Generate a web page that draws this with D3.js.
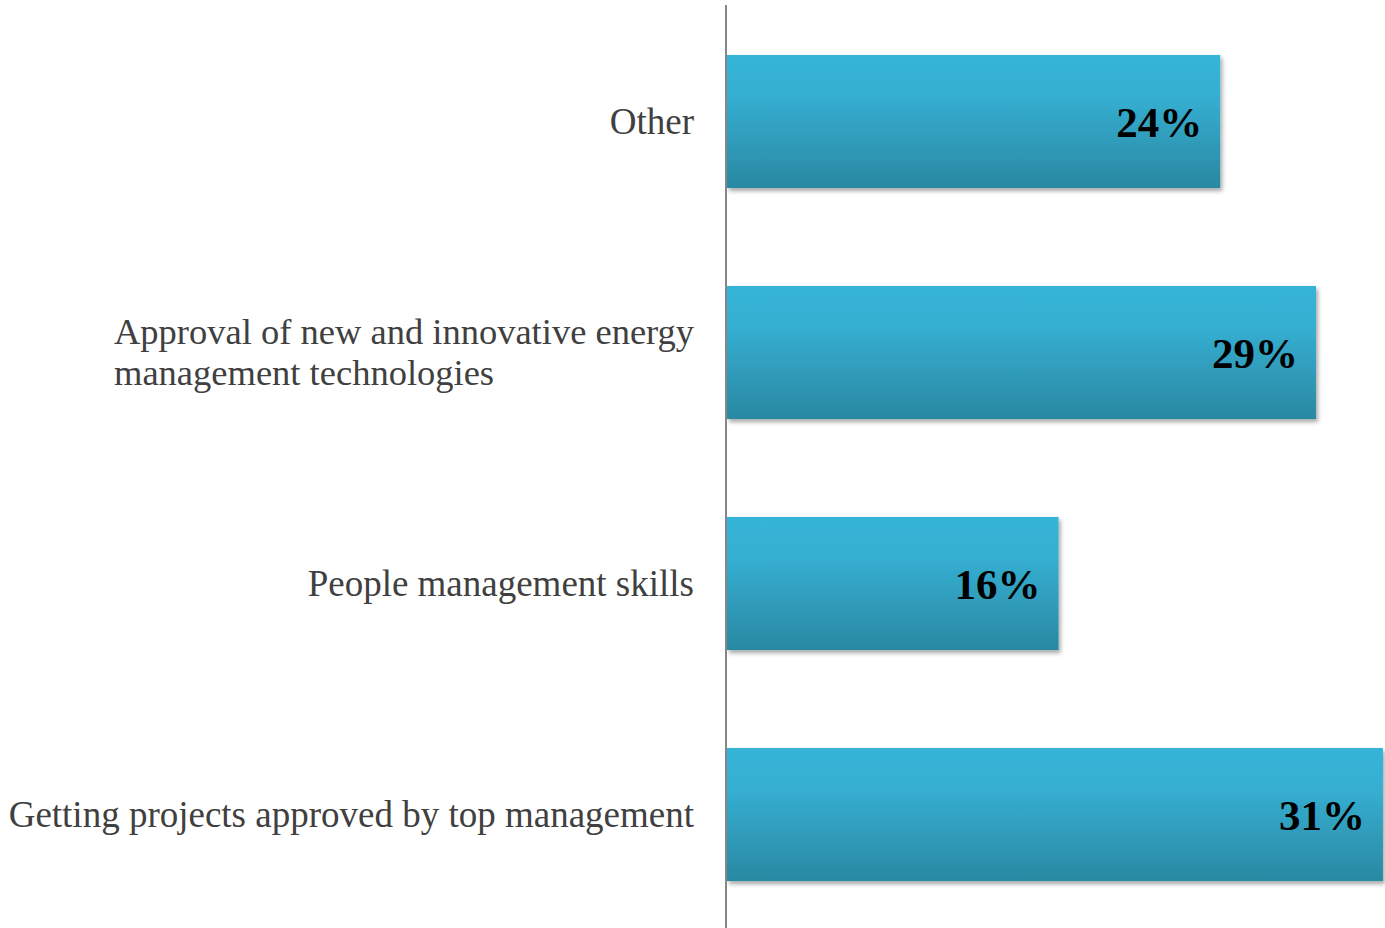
<!DOCTYPE html>
<html>
<head>
<meta charset="utf-8">
<script src="https://cdn.jsdelivr.net/npm/d3@7"></script>
<style>
  body { margin: 0; background: #fff; }
  svg { display: block; }
</style>
</head>
<body>
<div id="chart"></div>
<script>
// dimensions
var width = 1385;
var height = 928;
var axisX = 727;

// data, top to bottom
var categories = [
    ["Other"],
    ["Approval of new and innovative energy", "management technologies"],
    ["People management skills"],
    ["Getting projects approved by top management"]
];
var values = [23.95, 28.6, 16.1, 31.85];
var valueLabels = ["24%", "29%", "16%", "31%"];

var svg = d3.select("#chart")
    .append("svg")
        .attr("width", width)
        .attr("height", height);

var defs = svg.append("defs");
var grad = defs.append("linearGradient")
    .attr("id", "barGrad")
    .attr("x1", 0).attr("y1", 0).attr("x2", 0).attr("y2", 1);
grad.append("stop").attr("offset", "0%").attr("stop-color", "#36b4d7");
grad.append("stop").attr("offset", "30%").attr("stop-color", "#35afd2");
grad.append("stop").attr("offset", "100%").attr("stop-color", "#2a88a2");

var shadow = defs.append("filter")
    .attr("id", "shadow")
    .attr("x", "-5%").attr("y", "-10%").attr("width", "115%").attr("height", "130%");
shadow.append("feDropShadow")
    .attr("dx", 2).attr("dy", 3).attr("stdDeviation", 2)
    .attr("flood-color", "#000").attr("flood-opacity", 0.35);

var x = d3.scaleLinear()
    .domain([0, 32])
    .range([axisX, 1386]);

var y = d3.scaleBand()
    .domain(d3.range(categories.length))
    .range([6, 930])
    .paddingInner(0.424)
    .paddingOuter(0.212);

// bars
svg.selectAll("rect.bar")
    .data(values)
    .enter()
    .append("rect")
        .attr("class", "bar")
        .attr("x", x(0))
        .attr("y", function(d, i) { return y(i); })
        .attr("width", function(d) { return x(d) - x(0); })
        .attr("height", y.bandwidth())
        .attr("fill", "url(#barGrad)")
        .attr("filter", "url(#shadow)");

// value labels
svg.selectAll("text.val")
    .data(values)
    .enter()
    .append("text")
        .attr("class", "val")
        .attr("x", function(d) { return x(d) - 18; })
        .attr("y", function(d, i) { return y(i) + y.bandwidth() / 2 + 15; })
        .attr("text-anchor", "end")
        .style("font-family", "'Liberation Serif', serif")
        .style("font-weight", "bold")
        .style("font-size", "43px")
        .style("fill", "#000")
        .text(function(d, i) { return valueLabels[i]; });

// category labels
var lab = svg.selectAll("text.cat")
    .data(categories)
    .enter()
    .append("text")
        .attr("class", "cat")
        .style("font-family", "'Liberation Serif', serif")
        .style("font-size", function(d) { return d.length > 1 ? "36.5px" : "37px"; })
        .style("fill", "#404040")
        .attr("text-anchor", function(d) { return d.length > 1 ? "start" : "end"; })
        .attr("transform", function(d, i) {
            var cy = y(i) + y.bandwidth() / 2;
            var top = cy - (d.length - 1) * 20.5 + 12;
            var lx = d.length > 1 ? 114 : 694;
            return "translate(" + lx + "," + top + ")";
        });

lab.each(function(d) {
    var t = d3.select(this);
    d.forEach(function(line, j) {
        t.append("tspan")
            .attr("x", 0)
            .attr("dy", j == 0 ? 0 : 41)
            .text(line);
    });
});

// axis line
svg.append("line")
    .attr("x1", axisX - 1).attr("x2", axisX - 1)
    .attr("y1", 5).attr("y2", height)
    .style("stroke", "#868686")
    .style("stroke-width", 2);
</script>
</body>
</html>
